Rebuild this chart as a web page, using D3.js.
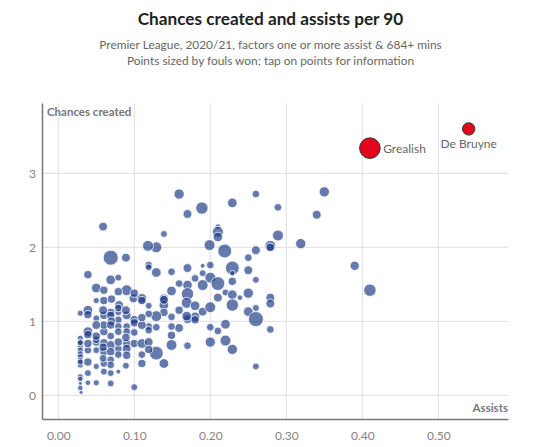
<!DOCTYPE html>
<html>
<head>
<meta charset="utf-8">
<script src="https://cdn.jsdelivr.net/npm/d3@7"></script>
<style>
  body { margin: 0; background: #fff; }
  svg { font-family: Lato, "Open Sans", sans-serif; }
</style>
</head>
<body>
<svg id="chart" width="541" height="447"></svg>
<script>
// assists per 90, chances created per 90, fouls won per 90 (for sizing)
// the last two entries are the labelled players
const assists = [
  0.159, 0.17, 0.189, 0.229, 0.26, 0.289, 0.35, 0.34, 0.289, 0.279, 0.279, 0.319, 0.26, 0.25,
  0.21, 0.21, 0.21, 0.199, 0.219, 0.139, 0.129, 0.118, 0.229, 0.229, 0.25, 0.26, 0.229, 0.2,
  0.19, 0.17, 0.149, 0.129, 0.19, 0.18, 0.2, 0.21, 0.19, 0.17, 0.159, 0.149, 0.17, 0.139,
  0.139, 0.169, 0.18, 0.19, 0.2, 0.21, 0.22, 0.229, 0.239, 0.229, 0.25, 0.279, 0.279, 0.26,
  0.25, 0.26, 0.279, 0.22, 0.21, 0.2, 0.2, 0.22, 0.229, 0.17, 0.149, 0.129, 0.139, 0.26,
  0.149, 0.159, 0.17, 0.18, 0.18, 0.169, 0.149, 0.149, 0.139, 0.129, 0.129, 0.159, 0.39, 0.41,
  0.139, 0.059, 0.069, 0.089, 0.119, 0.119, 0.039, 0.05, 0.06, 0.069, 0.079, 0.09, 0.079, 0.05,
  0.06, 0.07, 0.08, 0.099, 0.11, 0.11, 0.119, 0.039, 0.029, 0.039, 0.05, 0.06, 0.069, 0.069,
  0.079, 0.079, 0.079, 0.079, 0.09, 0.09, 0.09, 0.09, 0.1, 0.1, 0.1, 0.11, 0.119, 0.119,
  0.119, 0.11, 0.1, 0.039, 0.039, 0.029, 0.029, 0.029, 0.029, 0.029, 0.039, 0.029, 0.029, 0.029,
  0.029, 0.03, 0.039, 0.039, 0.05, 0.05, 0.05, 0.05, 0.06, 0.06, 0.06, 0.06, 0.06, 0.069,
  0.069, 0.069, 0.069, 0.069, 0.079, 0.079, 0.09, 0.09, 0.07, 0.06, 0.029, 0.029,
  0.029, 0.029, 0.029, 0.039, 0.039, 0.05, 0.05, 0.05, 0.059, 0.059, 0.059, 0.069, 0.069, 0.069,
  0.079, 0.079, 0.079, 0.089, 0.089, 0.089, 0.1, 0.1, 0.11, 0.11, 0.11, 0.119, 0.119,
  0.41, 0.54
];
const chances = [
  2.72, 2.45, 2.53, 2.60, 2.72, 2.54, 2.75, 2.44, 2.16, 2.02, 2.00, 2.05, 1.96, 1.86,
  2.28, 2.21, 2.14, 2.03, 1.95, 2.18, 2.00, 2.02, 1.72, 1.65, 1.69, 1.56, 1.54, 1.76,
  1.75, 1.72, 1.67, 1.66, 1.65, 1.58, 1.59, 1.51, 1.49, 1.49, 1.51, 1.41, 1.37, 1.31,
  1.22, 1.25, 1.21, 1.13, 1.19, 1.32, 1.39, 1.36, 1.32, 1.22, 1.38, 1.32, 1.24, 1.18,
  1.13, 1.03, 0.89, 0.96, 0.87, 0.92, 0.72, 0.74, 0.62, 0.67, 0.68, 0.57, 0.43, 0.39,
  0.81, 0.91, 1.03, 1.06, 1.02, 1.07, 1.06, 0.93, 1.12, 1.07, 0.92, 1.15, 1.75, 1.42,
  1.29, 2.28, 1.86, 1.86, 1.76, 1.73, 1.63, 1.45, 1.42, 1.56, 1.59, 1.42, 1.40, 1.28,
  1.28, 1.30, 1.22, 1.31, 1.31, 1.28, 1.21, 1.15, 1.11, 1.09, 1.04, 1.08, 1.12, 1.08,
  1.12, 1.02, 0.93, 0.86, 1.08, 0.93, 0.86, 0.70, 1.02, 0.98, 0.70, 0.70, 0.93, 0.88,
  0.72, 0.43, 0.11, 0.86, 0.82, 0.77, 0.66, 0.61, 0.56, 0.52, 0.45, 0.41, 0.25, 0.22,
  0.16, 0.04, 0.30, 0.17, 0.72, 0.61, 0.39, 0.17, 0.86, 0.71, 0.59, 0.43, 0.32, 0.68,
  0.59, 0.48, 0.41, 0.16, 0.32, 0.63, 0.63, 0.54, 1.00, 0.95, 0.47, 0.72,
  0.71, 0.45, 0.10, 0.61, 0.70, 0.75, 0.80, 0.95, 0.50, 0.65, 1.15, 0.95, 0.80, 0.30,
  1.18, 0.72, 0.55, 1.15, 0.78, 0.40, 0.85, 1.38, 0.95, 0.55, 1.05, 1.10, 0.62,
  3.34, 3.60
];
const foulsWon = [
  1.0, 0.74, 1.44, 0.88, 0.55, 0.55, 1.0, 0.74, 1.12, 1.12, 0.64, 1.0, 0.74, 0.55,
  0.29, 1.12, 0.88, 1.12, 1.8, 0.44, 1.12, 1.12, 1.8, 0.29, 0.74, 0.44, 0.64, 0.55,
  0.22, 0.74, 0.55, 0.88, 0.44, 0.55, 1.12, 1.8, 1.12, 0.88, 0.55, 0.88, 1.44, 0.74,
  0.88, 1.12, 0.88, 0.74, 1.12, 0.74, 0.44, 0.88, 0.29, 1.44, 1.0, 0.74, 0.74, 0.44,
  0.88, 2.13, 0.55, 0.88, 0.55, 0.55, 1.0, 1.12, 1.0, 0.55, 1.12, 1.8, 0.88, 0.44,
  0.64, 0.74, 0.74, 0.88, 0.64, 0.88, 0.55, 0.55, 0.64, 1.12, 0.55, 0.64, 0.81, 1.44,
  0.74, 0.74, 2.13, 0.74, 0.55, 0.44, 0.64, 0.88, 0.64, 0.88, 0.44, 1.12, 0.64, 0.36,
  0.64, 0.64, 0.74, 0.74, 0.88, 0.64, 0.44, 0.88, 0.36, 0.64, 0.44, 0.64, 0.64, 0.64,
  0.44, 0.55, 0.55, 0.55, 0.74, 0.55, 0.55, 0.64, 0.74, 0.64, 0.64, 0.88, 0.55, 0.55,
  0.74, 0.64, 0.44, 0.88, 0.64, 0.36, 0.36, 0.36, 0.36, 0.36, 0.64, 0.36, 0.36, 0.29,
  0.16, 0.16, 0.44, 0.29, 0.64, 0.44, 0.36, 0.36, 0.64, 0.64, 0.64, 0.55, 0.44, 0.74,
  0.64, 0.55, 0.55, 0.44, 0.22, 0.55, 0.74, 0.64, 0.64, 0.64, 0.36, 0.36,
  0.36, 0.36, 0.29, 0.55, 0.64, 0.55, 0.64, 0.74, 0.55, 0.64, 0.74, 0.64, 0.55, 0.44,
  0.55, 0.64, 0.55, 0.74, 0.64, 0.44, 0.55, 0.64, 0.74, 0.55, 0.64, 0.55, 0.64,
  4.0, 1.44
];
const labelled = ["Grealish", "De Bruyne"];

const xTicks = [0, 0.1, 0.2, 0.3, 0.4, 0.5];
const yTicks = [0, 1, 2, 3];

const svg = d3.select("#chart");
const plotL = 42, plotR = 508, plotT = 103, plotB = 419;

// x(0)=58.3, 760px per 1.0 ; y(0)=395.3, 74px per 1.0
const x = d3.scaleLinear().domain([-0.0214, 0.5917]).range([plotL, plotR]);
const y = d3.scaleLinear().domain([-0.32, 3.95]).range([plotB, plotT]);
const r = d3.scaleSqrt().domain([0, 4]).range([0, 10.3]);

// title
svg.append("text")
    .attr("x", 270.5).attr("y", 25)
    .attr("text-anchor", "middle")
    .attr("font-size", 17.2).attr("font-weight", 700)
    .attr("fill", "#222")
    .text("Chances created and assists per 90");

const sub = svg.append("g").attr("fill", "#666").attr("font-size", 11.9).attr("text-anchor", "middle");
sub.append("text").attr("x", 270.5).attr("y", 49)
    .text("Premier League, 2020/21, factors one or more assist & 684+ mins");
sub.append("text").attr("x", 270.5).attr("y", 65)
    .text("Points sized by fouls won; tap on points for information");

// grid
svg.append("g").selectAll("line")
    .data(xTicks).enter().append("line")
    .attr("x1", d => x(d)).attr("x2", d => x(d))
    .attr("y1", plotT).attr("y2", plotB)
    .attr("stroke", "#dedede");
svg.append("g").selectAll("line")
    .data(yTicks).enter().append("line")
    .attr("x1", plotL).attr("x2", plotR)
    .attr("y1", d => y(d)).attr("y2", d => y(d))
    .attr("stroke", "#dedede");

// axes
const xAxis = svg.append("g")
    .attr("transform", `translate(0,${plotB})`)
    .call(d3.axisBottom(x).tickValues(xTicks).tickFormat(d3.format(".2f")).tickSize(0).tickPadding(12));
const yAxis = svg.append("g")
    .attr("transform", `translate(${plotL},0)`)
    .call(d3.axisLeft(y).tickValues(yTicks).tickFormat(d3.format("d")).tickSize(0).tickPadding(6));
[xAxis, yAxis].forEach(a => {
  a.select(".domain").attr("stroke", "#777").attr("stroke-width", 1.5);
  a.selectAll("text").attr("fill", "#8a837e").attr("font-size", 12)
      .attr("font-family", "Lato, sans-serif");
});

svg.append("text")
    .attr("x", plotL + 5).attr("y", 116)
    .attr("font-size", 11.5).attr("font-weight", 700).attr("fill", "#777")
    .text("Chances created");
svg.append("text")
    .attr("x", plotR).attr("y", 412)
    .attr("text-anchor", "end")
    .attr("font-size", 11.5).attr("font-weight", 700).attr("fill", "#777")
    .text("Assists");

// points
const n0 = assists.length - labelled.length;
const pts = assists.map((a, i) => ({ a: a, c: chances[i], f: foulsWon[i], name: i >= n0 ? labelled[i - n0] : null }));

svg.append("g").selectAll("circle")
    .data(pts.filter(d => !d.name)).enter().append("circle")
    .attr("cx", d => x(d.a)).attr("cy", d => y(d.c)).attr("r", d => r(d.f))
    .attr("fill", "#1b3a84").attr("fill-opacity", 0.68)
    .attr("stroke", "#fff").attr("stroke-width", 0.8);

const hi = pts.filter(d => d.name);
svg.append("g").selectAll("circle")
    .data(hi).enter().append("circle")
    .attr("cx", d => x(d.a)).attr("cy", d => y(d.c)).attr("r", d => r(d.f))
    .attr("fill", "#e3051b").attr("stroke", "#333").attr("stroke-width", 1);

svg.append("g").selectAll("text")
    .data(hi).enter().append("text")
    .attr("x", d => d.name === "Grealish" ? x(d.a) + r(d.f) + 3 : x(d.a))
    .attr("y", d => d.name === "Grealish" ? y(d.c) + 4.5 : y(d.c) + 19)
    .attr("text-anchor", d => d.name === "Grealish" ? "start" : "middle")
    .attr("font-size", 12).attr("fill", "#666")
    .text(d => d.name);
</script>
</body>
</html>
